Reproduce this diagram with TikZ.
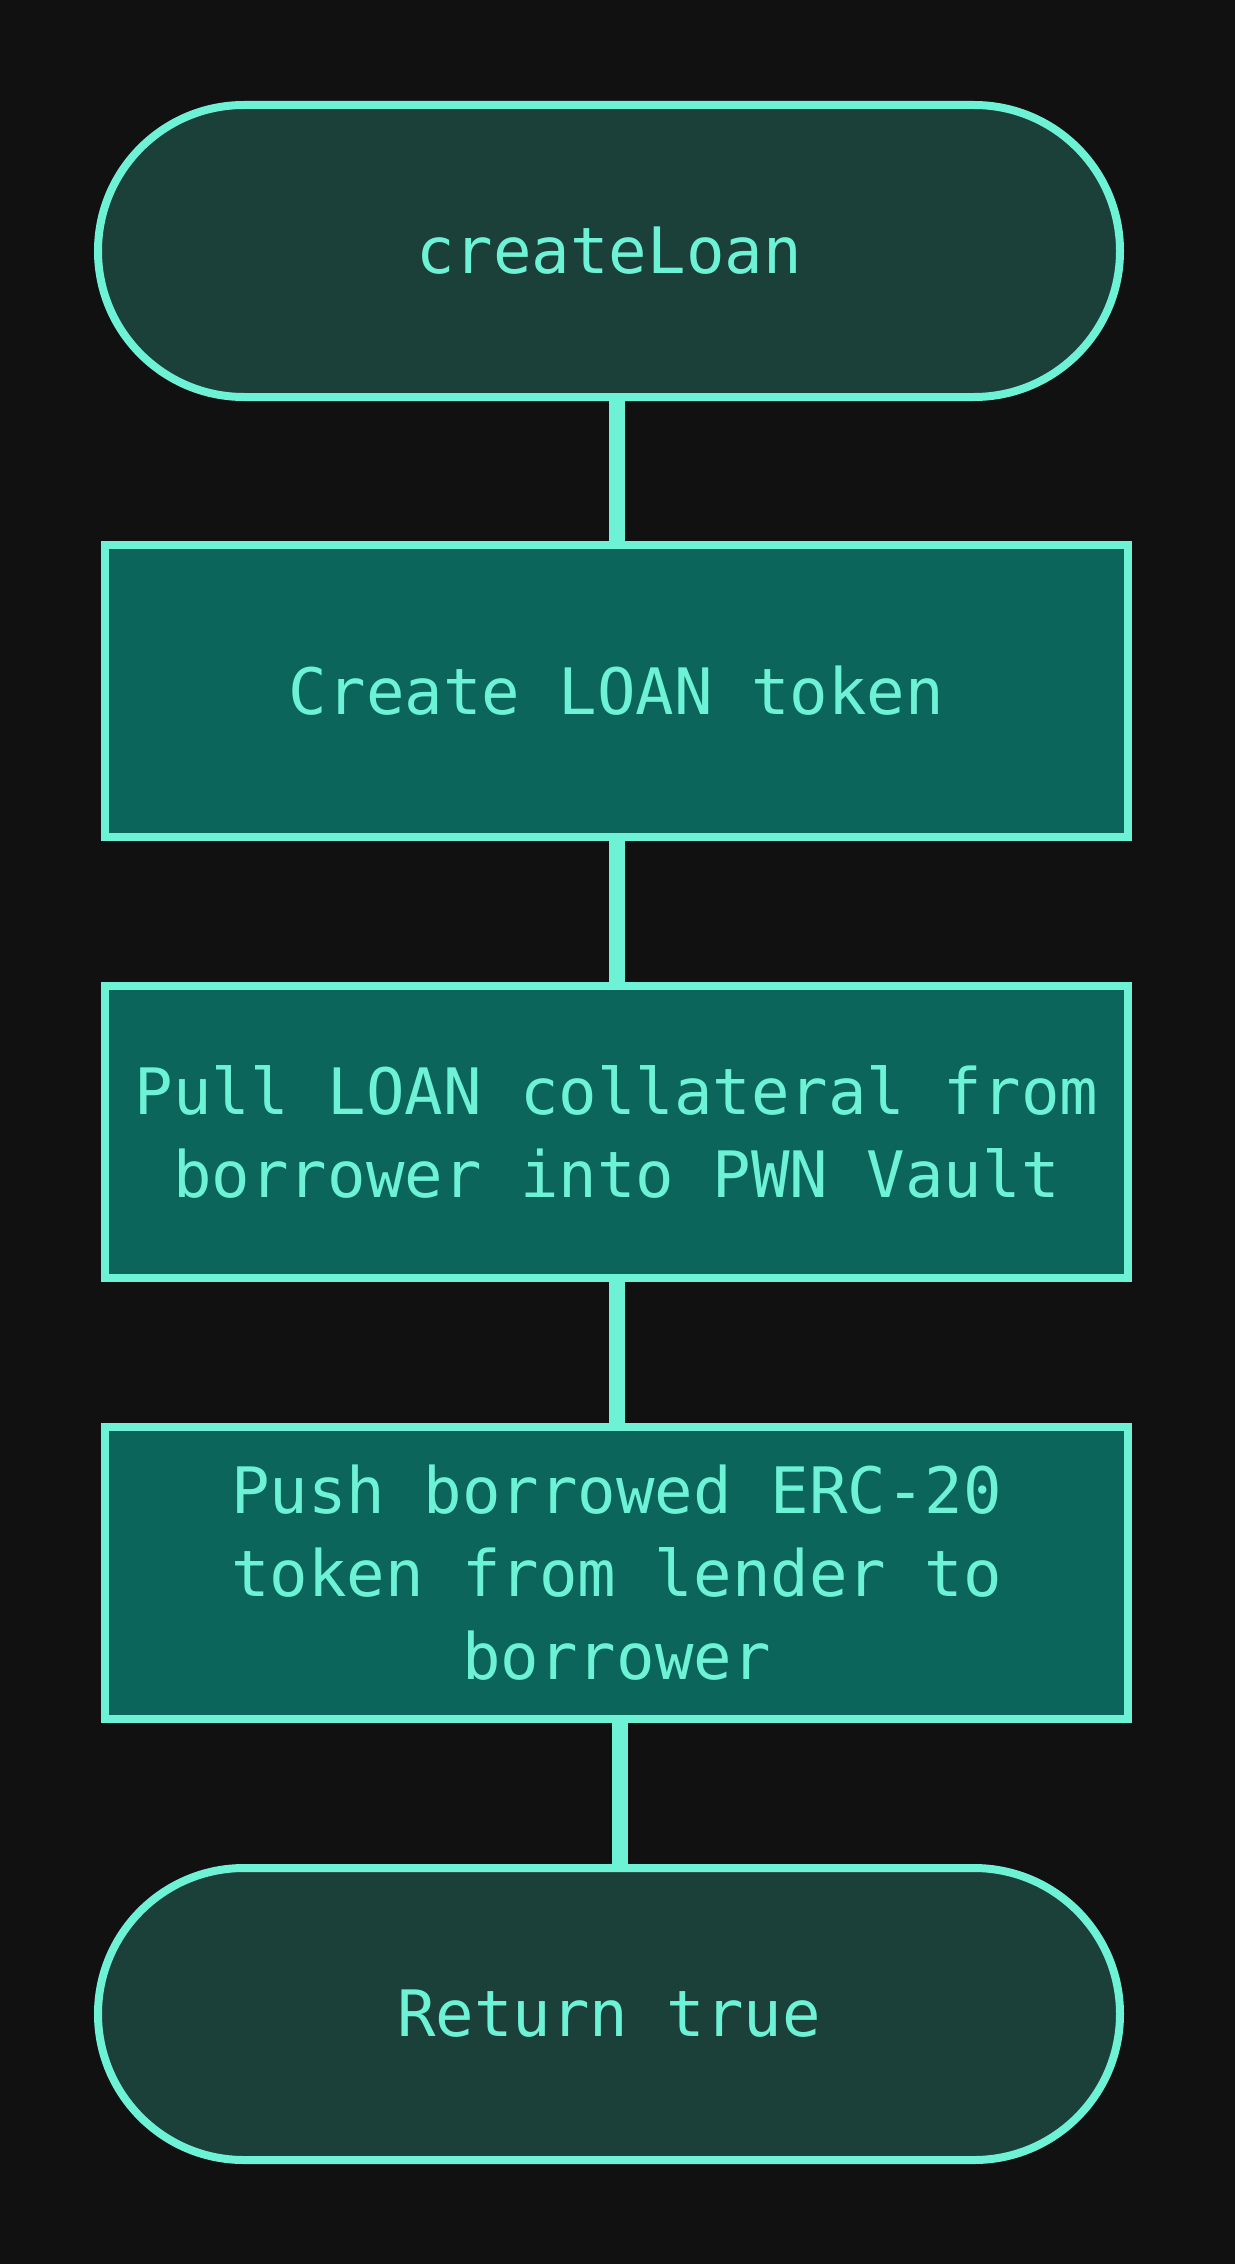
\documentclass[tikz,border=0pt]{standalone}
\usepackage{fontspec}
\setmonofont{DejaVu Sans Mono}
\usetikzlibrary{positioning,calc}

\definecolor{pagebg}{HTML}{111111}
\definecolor{mint}{HTML}{6EF2D6}
\definecolor{termfill}{HTML}{1B3F39}
\definecolor{stepfill}{HTML}{0B655B}

\begin{document}
\begin{tikzpicture}[
  x=1pt, y=-1pt,
  term/.style={draw=mint, fill=termfill, line width=8pt, rounded corners=146pt, minimum width=1022pt, minimum height=292pt, align=center, inner sep=0pt, text=mint, font=\ttfamily\fontsize{64}{84}\selectfont},
  stepbox/.style={draw=mint, fill=stepfill, line width=8pt, minimum width=1023pt, minimum height=292pt, align=center, inner sep=0pt, text=mint, font=\ttfamily\fontsize{64}{83}\selectfont},
  link/.style={draw=mint, line width=16pt},
]

% page
\useasboundingbox (0,0) rectangle (1234,2264);
\fill[pagebg] (-4,-4) rectangle (1238,2268);

% flow steps
\node[term] (start) at (609, 251) {createLoan};
\node[stepbox] (mint) at (616.5, 691) {Create LOAN token};
\node[stepbox] (pull) at (616.5, 1132) {Pull LOAN collateral from\\borrower into PWN Vault};
\node[stepbox] (push) at (616.5, 1573) {Push borrowed ERC-20\\token from lender to\\borrower};
\node[term] (stop) at (609, 2014) {Return true};

% connectors
\draw[link] (mint.north |- start.south) -- (mint.north);
\draw[link] (mint.south) -- (pull.north);
\draw[link] (pull.south) -- (push.north);
\draw[link] ([xshift=3pt]push.south) -- ([xshift=3pt]push.south |- stop.north);

\end{tikzpicture}
\end{document}
